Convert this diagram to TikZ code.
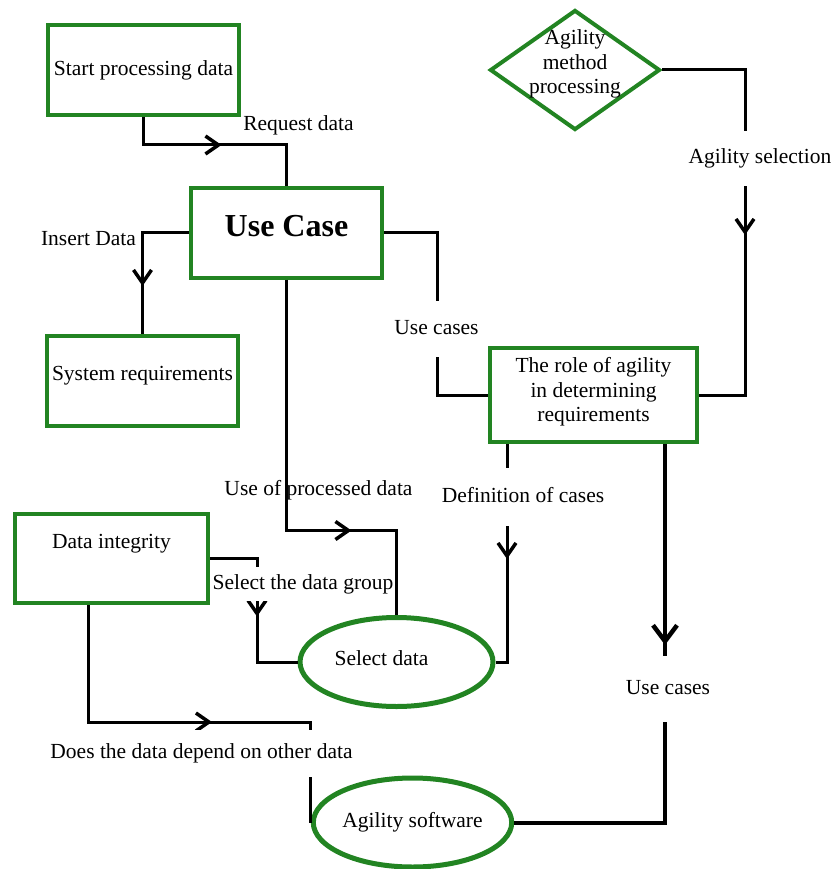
\documentclass[tikz,border=0pt]{standalone}
\usepackage{fontspec}
\setmainfont{Liberation Serif}
\usetikzlibrary{shapes.geometric,arrows.meta,decorations.markings}
\definecolor{kastengruen}{RGB}{34,132,34}

\begin{document}
\begin{tikzpicture}[x=1pt,y=-1pt,
  font=\fontsize{21.5}{24.5}\selectfont,
  kasten/.style={draw=kastengruen,line width=4pt,fill=white,minimum width=191pt,minimum height=90pt,inner sep=2pt,align=center},
  oval/.style={ellipse,draw=kastengruen,line width=5pt,fill=white,minimum width=193pt,minimum height=89pt,inner sep=0pt},
  raute/.style={diamond,draw=kastengruen,line width=4pt,fill=white,minimum width=170pt,minimum height=120pt,inner sep=0pt},
  linie/.style={line width=3pt},
  pfeil/.style={postaction={decorate,decoration={markings,
    mark=at position #1 with {\arrow{Straight Barb[length=13pt,width=18pt,line width=3.5pt]}}}}},
  grosspfeil/.style={postaction={decorate,decoration={markings,
    mark=at position #1 with {\arrow{Straight Barb[length=16pt,width=24pt,line width=4.5pt]}}}}},
  txt/.style={text height=14pt,text depth=4pt,inner sep=1pt},
  luecke/.style={txt,fill=white,inner ysep=#1}]

  % Rahmen
  \useasboundingbox (0,0) rectangle (833,869);

  % Kaesten
  \node[kasten] (start) at (143.5,70) {Start processing data};
  \node[kasten,label={[yshift=6pt,font=\fontsize{32}{36}\selectfont\bfseries]center:Use Case}] (usecase) at (286.5,232.5) {};
  \node[kasten,label={[yshift=5pt]center:System requirements}] (sysreq) at (142.5,381) {};
  \node[kasten,minimum width=193pt,minimum height=89pt,label={[yshift=15pt]center:Data integrity}] (datint) at (111.5,558.5) {};
  \node[kasten,minimum width=207pt,minimum height=94pt,label={[align=center,yshift=3pt]center:The role of agility\\in determining\\requirements}] (role) at (593.5,395) {};
  \node[raute,label={[align=center,yshift=6pt]center:Agility\\method\\processing}] (agil) at (575,70) {};
  \node[oval,label={[xshift=-15pt,yshift=4pt]center:Select data}] (seldata) at (396.5,662) {};
  \node[oval,minimum width=195pt] (agsoft) at (412.5,822.5) {Agility software};

  % Verbindungen
  \draw[linie,pfeil=106pt] (start.south) -- ++(0,28) -| (usecase.north);
  \draw[linie,pfeil=100pt] (usecase.west) -| (sysreq.north);
  \draw[linie] (usecase.east) -- ++(53,0) |- (role.west);
  \draw[linie,pfeil=248pt] (agil.east) -- ++(83,0) |- (role.east);
  \draw[linie,pfeil=115pt] ([xshift=-86.5pt]role.south) |- (seldata.east);
  \draw[linie,line width=4pt,grosspfeil=201pt] ([xshift=71.5pt]role.south) |- (agsoft.east);
  \draw[linie,pfeil=316pt] (usecase.south) -- ++(0,251) -| (seldata.north);
  \draw[linie,pfeil=105pt] (datint.east) -- ++(47,0) |- (seldata.west);
  \draw[linie,pfeil=241pt] ([xshift=-23.5pt]datint.south) -- ++(0,117) -| (agsoft.west);

  % Beschriftungen
  \node[txt] (reqdata) at (298.5,126) {Request data};
  \node[txt] (insdata) at (88.5,240) {Insert Data};
  \node[txt] (usedata) at (318.5,490) {Use of processed data};
  \node[luecke=19pt] (usecases1) at (436.5,329) {Use cases};
  \node[luecke=18.5pt] (agsel) at (760,158.5) {Agility selection};
  \node[luecke=20pt] (defcases) at (523,497) {Definition of cases};
  \node[luecke=24pt] (usecases2) at (668,689) {Use cases};
  \node[luecke=8pt] (selgroup) at (303,584) {Select the data group};
  \node[luecke=14.5pt] (depend) at (201.5,753.5) {Does the data depend on other data};
\end{tikzpicture}
\end{document}
